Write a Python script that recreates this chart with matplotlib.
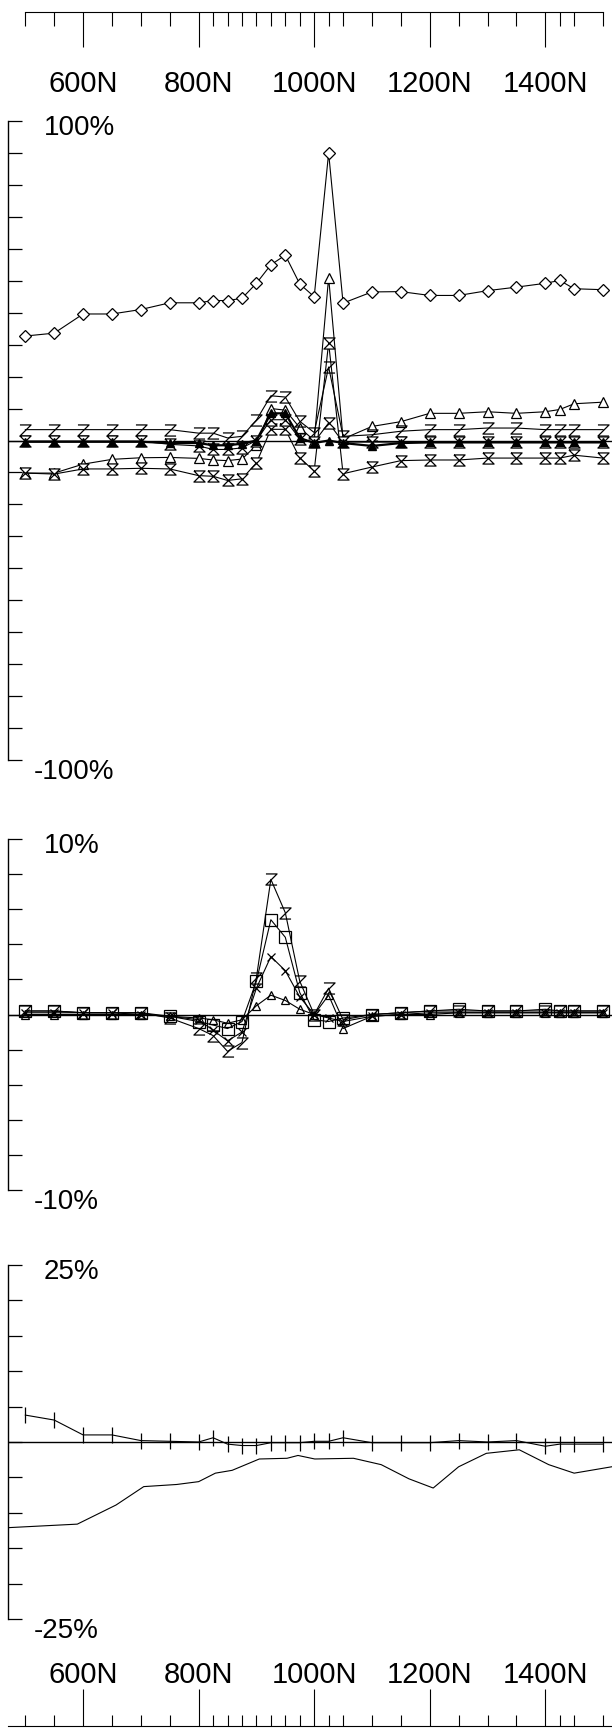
import matplotlib.pyplot as plt
from matplotlib.ticker import FixedLocator, NullFormatter

plt.rcParams['font.family'] = ['Liberation Sans', 'DejaVu Sans']

# x positions (N)
x_pts = [500, 550, 600, 650, 700, 750, 800, 825, 850, 875, 900, 925, 950, 975,
         1000, 1025, 1050, 1100, 1150, 1200, 1250, 1300, 1350, 1400, 1425, 1450, 1500]
x_major = [600, 800, 1000, 1200, 1400]
x_labels = ['600N', '800N', '1000N', '1200N', '1400N']

# panel 1 (+-100%)
p1_diamond = [32.7, 33.6, 39.6, 39.6, 41.0, 43.1, 43.1, 43.8, 43.8, 44.5, 49.2, 55.0, 58.0, 49.0,
              45.0, 90.0, 43.0, 46.5, 46.6, 45.4, 45.4, 46.9, 48.0, 49.2, 50.1, 47.5, 47.2]
p1_tri = [-10.2, -10.2, -7.4, -5.9, -5.4, -5.3, -5.6, -6.1, -6.3, -5.8, -1.5, 10.0, 9.5, 4.0,
          0.0, 51.0, 0.5, 4.4, 5.9, 8.5, 8.5, 9.0, 8.5, 9.0, 9.7, 11.5, 12.0]
p1_hour_low = [-10.2, -10.5, -8.9, -8.9, -8.7, -8.9, -11.0, -11.2, -12.5, -12.0, -7.0, 3.5, 3.5, -5.5,
               -9.5, 30.5, -10.4, -8.3, -6.3, -6.1, -6.1, -5.5, -5.5, -5.5, -5.5, -4.6, -5.5]
p1_z = [3.4, 3.4, 3.4, 3.4, 3.4, 3.4, 2.3, 2.3, 0.8, 1.3, 6.4, 14.0, 13.6, 6.0,
        2.5, 23.0, 1.3, 1.8, 2.9, 3.4, 3.4, 3.9, 3.9, 3.4, 3.4, 3.4, 3.4]
p1_hour_zero = [-0.2, -0.2, -0.2, -0.2, -0.2, -1.2, -1.7, -2.8, -2.8, -2.3, 0.0, 6.5, 6.5, 0.5,
                -0.5, 5.5, -0.5, -0.5, -0.5, -0.5, -0.5, -0.5, -0.5, -0.5, -0.5, -0.5, -0.5]
p1_filled = [-0.4, -0.4, -0.4, -0.4, -0.4, -0.8, -0.8, -1.5, -1.5, -1.0, 0.0, 8.5, 8.5, 0.8,
             -0.8, 0.0, -0.8, -1.7, -0.8, -0.6, -0.6, -0.6, -0.6, -0.6, -0.6, -0.6, -0.6]

# panel 2 (+-10%)
p2_z = [0.2, 0.2, 0.1, 0.1, 0.1, -0.2, -0.8, -1.2, -2.1, -1.6, 2.1, 7.7, 5.8, 1.9,
        0.0, 1.5, -0.3, 0.0, 0.1, 0.2, 0.2, 0.2, 0.2, 0.2, 0.2, 0.2, 0.2]
p2_sq = [0.2, 0.2, 0.1, 0.1, 0.1, -0.1, -0.4, -0.6, -0.8, -0.4, 1.9, 5.4, 4.4, 1.25,
         -0.3, -0.4, -0.2, 0.0, 0.1, 0.2, 0.3, 0.2, 0.2, 0.3, 0.2, 0.2, 0.2]
p2_c = [0.1, 0.1, 0.1, 0.1, 0.0, -0.1, -0.3, -0.9, -1.5, -1.0, 1.5, 3.3, 2.5, 1.0,
        0.0, -0.2, -0.4, -0.1, 0.0, 0.1, 0.1, 0.1, 0.1, 0.1, 0.1, 0.1, 0.1]
p2_d = [0.0, 0.0, 0.0, 0.0, 0.0, -0.1, -0.2, -0.3, -0.5, -0.3, 0.5, 1.1, 0.8, 0.3,
        0.0, 1.1, -0.8, -0.1, 0.0, 0.0, 0.1, 0.1, 0.1, 0.1, 0.1, 0.1, 0.1]

# panel 3 (+-25%)
p3_tick = [3.8, 3.1, 1.0, 1.0, 0.2, 0.1, 0.0, 0.6, -0.3, -0.5, -0.5, -0.1, -0.1, -0.1,
           0.1, 0.1, 0.6, -0.1, -0.1, -0.1, 0.2, 0.0, 0.2, -0.6, -0.3, -0.3, -0.3]
p3_low_x = [470, 590, 657, 705, 762, 800, 829, 858, 905, 953, 972, 1001, 1068, 1116,
            1164, 1206, 1250, 1298, 1355, 1406, 1450, 1515]
p3_low = [-12.1, -11.6, -8.9, -6.3, -6.0, -5.6, -4.4, -4.0, -2.4, -2.3, -1.9, -2.4, -2.3, -3.2,
          -5.2, -6.5, -3.5, -1.6, -1.1, -3.2, -4.4, -3.5]

W, H = 612, 1731
XL = (470, 1515.5)
fig = plt.figure(figsize=(W / 100, H / 100), dpi=100)


def px_axes(top, bottom, left=8):
    return fig.add_axes([left / W, 1 - bottom / H, 1 - left / W, (bottom - top) / H])


hourglass = [(-1, 1), (1, 1), (-1, -1), (1, -1), (-1, 1)]
zmark = [(-1, 1), (1, 1), (-1, -1), (1, -1)]
lw = 0.8
kw = dict(color='black', lw=lw, mec='black', mew=0.9)


def panel(top, bottom, lim, step, lab_top, lab_bot):
    ax = px_axes(top, bottom)
    ax.set_xlim(*XL)
    ax.set_ylim(-lim, lim)
    for s in ['top', 'right', 'bottom']:
        ax.spines[s].set_visible(False)
    ax.spines['left'].set_linewidth(1.0)
    ax.set_xticks([])
    ax.yaxis.set_major_locator(FixedLocator([i * step for i in range(-int(lim / step), int(lim / step) + 1)]))
    ax.yaxis.set_major_formatter(NullFormatter())
    ax.tick_params(axis='y', direction='in', length=10, width=0.9)
    ax.axhline(0, color='black', lw=1.0, zorder=1)
    fig.text(44 / W, 1 - (top + 6) / H, lab_top, fontsize=20, va='center', ha='left')
    fig.text(34 / W, 1 - (bottom + 11) / H, lab_bot, fontsize=20, va='center', ha='left')
    ax.patch.set_alpha(0)
    return ax


# top x axis
ax_t = px_axes(0, 13)
ax_t.set_xlim(*XL)
for s in ['top', 'right', 'left']:
    ax_t.spines[s].set_visible(False)
ax_t.spines['bottom'].set_bounds(500, 1500)
ax_t.set_yticks([])
ax_t.set_xticks(x_major)
ax_t.set_xticklabels(x_labels, fontsize=21)
ax_t.xaxis.set_minor_locator(FixedLocator(x_pts))
ax_t.tick_params(axis='x', which='major', direction='out', length=25, width=0.8, pad=16)
ax_t.tick_params(axis='x', which='minor', direction='out', length=10, width=0.8)
ax_t.patch.set_alpha(0)

# bottom x axis
ax_b = px_axes(1727, 1730)
ax_b.set_xlim(*XL)
for s in ['bottom', 'right', 'left']:
    ax_b.spines[s].set_visible(False)
ax_b.set_yticks([])
ax_b.xaxis.set_ticks_position('top')
ax_b.xaxis.set_label_position('top')
ax_b.set_xticks(x_major)
ax_b.set_xticklabels(x_labels, fontsize=21)
ax_b.xaxis.set_minor_locator(FixedLocator(x_pts))
ax_b.tick_params(axis='x', which='major', direction='out', length=27, width=0.8, pad=0)
ax_b.tick_params(axis='x', which='minor', direction='out', length=8, width=0.8)
ax_b.patch.set_alpha(0)

# panel 1
ax1 = panel(122, 761, 100, 10, '100%', '-100%')
ax1.plot(x_pts, p1_diamond, marker='D', ms=6, mfc='white', **kw)
ax1.plot(x_pts, p1_tri, marker='^', ms=7, mfc='white', **kw)
ax1.plot(x_pts, p1_hour_low, marker=hourglass, ms=8, mfc='white', **kw)
ax1.plot(x_pts, p1_z, marker=zmark, ms=8, mfc='none', **kw)
ax1.plot(x_pts, p1_hour_zero, marker=hourglass, ms=8, mfc='white', **kw)
ax1.plot(x_pts, p1_filled, marker='^', ms=6, mfc='black', color='black', lw=1.6, mec='black')

# panel 2
ax2 = panel(840, 1191, 10, 2, '10%', '-10%')
ax2.plot(x_pts, p2_z, marker=zmark, ms=8, mfc='none', **kw)
ax2.plot(x_pts, p2_sq, marker='s', ms=8, mfc='none', **kw)
ax2.plot(x_pts, p2_c, marker='x', ms=6, **kw)
ax2.plot(x_pts, p2_d, marker='^', ms=6, mfc='none', **kw)

# panel 3
ax3 = panel(1266, 1620, 25, 5, '25%', '-25%')
ax3.plot(x_pts, p3_tick, marker='|', ms=12, **kw)
ax3.plot(p3_low_x, p3_low, color='black', lw=lw)

fig.savefig('out.png', dpi=100, facecolor='white')
